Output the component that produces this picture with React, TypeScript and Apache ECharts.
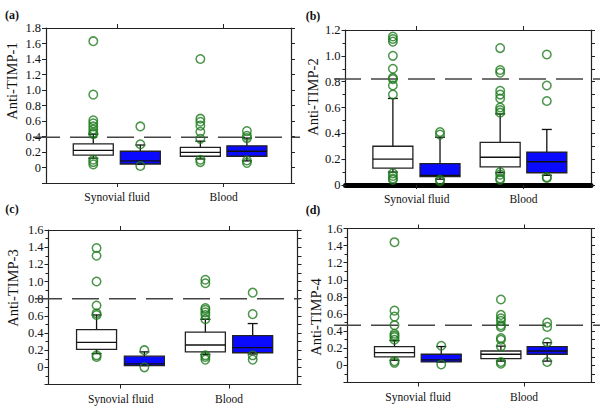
import React, { useEffect, useRef } from "react";
import * as echarts from "echarts";

// ---- data ----
const groups = ["Synovial fluid", "Blood"];
const groupCenters = [2.9, 7.25];
// box positions: white SF, blue SF, white Blood, blue Blood
const boxX = [1.93, 3.85, 6.3, 8.2];
const boxKind = [0, 1, 0, 1]; // 0 white, 1 blue

const panelLabels = ["(a)", "(b)", "(c)", "(d)"];
const axisTitles = ["Anti-TIMP-1", "Anti-TIMP-2", "Anti-TIMP-3", "Anti-TIMP-4"];
const yMin = [-0.2, 0, -0.2, -0.2];
const yMax = [1.8, 1.2, 1.6, 1.6];
const thresholds = [0.39, 0.82, 0.8, 0.47];

// [min, q1, median, q3, max] for whiteSF, blueSF, whiteBlood, blueBlood
const statsA = [
  [0.12, 0.16, 0.22, 0.305, 0.43],
  [0.04, 0.045, 0.085, 0.21, 0.29],
  [0.11, 0.145, 0.195, 0.26, 0.34],
  [0.085, 0.145, 0.21, 0.28, 0.38],
];
const statsB = [
  [0.1, 0.13, 0.2, 0.3, 0.67],
  [0.045, 0.065, 0.075, 0.165, 0.37],
  [0.095, 0.14, 0.215, 0.33, 0.55],
  [0.075, 0.095, 0.18, 0.255, 0.43],
];
const statsC = [
  [0.16, 0.21, 0.29, 0.44, 0.61],
  [0.02, 0.02, 0.04, 0.13, 0.18],
  [0.15, 0.18, 0.26, 0.41, 0.56],
  [0.155, 0.17, 0.23, 0.37, 0.51],
];
const statsD = [
  [0.06, 0.1, 0.15, 0.22, 0.29],
  [0.04, 0.04, 0.065, 0.13, 0.22],
  [0.05, 0.078, 0.13, 0.168, 0.225],
  [0.05, 0.13, 0.168, 0.22, 0.265],
];

const outliersA = [
  [1.63, 0.94, 0.61, 0.57, 0.53, 0.49, 0.45, 0.43, 0.1, 0.07, 0.04],
  [0.53, 0.3, 0.02],
  [1.4, 0.63, 0.59, 0.54, 0.46, 0.37, 0.1, 0.07],
  [0.47, 0.41, 0.38, 0.09, 0.06],
];
const outliersB = [
  [1.15, 1.13, 1.11, 1.0, 0.9, 0.83, 0.82, 0.77, 0.7, 0.09, 0.07, 0.05, 0.04],
  [0.41, 0.39, 0.04, 0.03],
  [1.06, 0.89, 0.87, 0.73, 0.7, 0.67, 0.6, 0.58, 0.56, 0.1, 0.08, 0.05, 0.04],
  [1.01, 0.77, 0.65, 0.06, 0.055],
];
const outliersC = [
  [1.39, 1.3, 1.0, 0.72, 0.63, 0.61, 0.14, 0.12],
  [0.2, 0.0],
  [1.02, 0.98, 0.69, 0.67, 0.64, 0.61, 0.56, 0.14, 0.12, 0.09],
  [0.87, 0.62, 0.14, 0.09],
];
const outliersD = [
  [1.44, 0.64, 0.57, 0.47, 0.37, 0.35, 0.33, 0.3, 0.05, 0.03],
  [0.23, 0.01],
  [0.77, 0.59, 0.55, 0.52, 0.47, 0.45, 0.32, 0.3, 0.22, 0.04, 0.02],
  [0.5, 0.45, 0.27, 0.04],
];

const allStats = [statsA, statsB, statsC, statsD];
const allOutliers = [outliersA, outliersB, outliersC, outliersD];

// ---- layout ----
const grids = [
  { left: 46, top: 28, width: 245, height: 155 },
  { left: 345.5, top: 30, width: 245.5, height: 155 },
  { left: 48.5, top: 230, width: 249, height: 154.5 },
  { left: 347.5, top: 228.5, width: 243.5, height: 154 },
];
const extGrids = [
  { left: 33, width: 267 },
  { left: 334, width: 266 },
  { left: 35, width: 265 },
  { left: 334, width: 266 },
];
const labelPos = [
  [12, 14.5],
  [313, 16],
  [12, 209],
  [313, 209.5],
];
const titlePos = [
  [12, 81],
  [313, 97],
  [12.5, 288],
  [316, 317],
];

const FONT = "'Liberation Serif', 'Times New Roman', serif";
const GREEN = "#1e7b1e";
const BLUE = "#0a0aff";

function fmtY(v: number) {
  if (v < -1e-9) return "";
  if (Math.abs(v) < 1e-9) return "0";
  return v.toFixed(1);
}

export default function App() {
  const ref = useRef<HTMLDivElement>(null);
  useEffect(() => {
    if (!ref.current) return;
    const chart = echarts.init(ref.current, undefined, { renderer: "svg" });

    const gridOpt: any[] = [];
    const xAxes: any[] = [];
    const yAxes: any[] = [];
    const series: any[] = [];
    const graphics: any[] = [];

    for (let p = 0; p < 4; p++) {
      gridOpt.push({ ...grids[p], containLabel: false });
    }
    for (let p = 0; p < 4; p++) {
      gridOpt.push({ left: extGrids[p].left, width: extGrids[p].width, top: grids[p].top, height: grids[p].height });
    }

    for (let p = 0; p < 4; p++) {
      const minor = p !== 0;
      const axisLine = { show: true, onZero: false, lineStyle: { color: "#222", width: 1.2 } };
      // bottom x
      xAxes.push({
        type: "value",
        gridIndex: p,
        position: "bottom",
        min: 0,
        max: 10,
        axisLine: p === 1 ? { show: true, onZero: false, lineStyle: { color: "#000", width: 5 } } : axisLine,
        splitLine: { show: false },
        axisTick: { show: true, inside: false, length: 4, customValues: groupCenters, lineStyle: { color: "#222" } },
        axisLabel: {
          show: true,
          customValues: groupCenters,
          margin: 8,
          fontFamily: FONT,
          fontSize: 11.5,
          color: "#111",
          formatter: (v: number) => {
            let best = 0;
            for (let i = 0; i < groupCenters.length; i++) {
              if (Math.abs(groupCenters[i] - v) < Math.abs(groupCenters[best] - v)) best = i;
            }
            return groups[best];
          },
        },
      });
      // top x
      xAxes.push({
        type: "value",
        gridIndex: p,
        position: "top",
        min: 0,
        max: 10,
        axisLine,
        splitLine: { show: false },
        axisTick: { show: true, inside: false, length: 4, customValues: groupCenters, lineStyle: { color: "#222" } },
        axisLabel: { show: false },
      });
      // ext x
      xAxes.push({ type: "value", gridIndex: 4 + p, min: 0, max: 1, show: false });

      // left y
      yAxes.push({
        type: "value",
        gridIndex: p,
        position: "left",
        min: yMin[p],
        max: yMax[p],
        interval: 0.2,
        axisLine,
        splitLine: { show: false },
        axisTick: { show: true, inside: false, length: 4, lineStyle: { color: "#222" } },
        minorTick: { show: minor, splitNumber: 2, length: 3, lineStyle: { color: "#222" } },
        minorSplitLine: { show: false },
        axisLabel: { show: true, margin: 5, fontFamily: FONT, fontSize: 12.5, color: "#111", formatter: fmtY },
      });
      // right y
      yAxes.push({
        type: "value",
        gridIndex: p,
        position: "right",
        min: yMin[p],
        max: yMax[p],
        interval: 0.2,
        axisLine,
        splitLine: { show: false },
        axisTick: { show: true, inside: false, length: 4, lineStyle: { color: "#222" } },
        minorTick: { show: minor, splitNumber: 2, length: 4, lineStyle: { color: "#222" } },
        minorSplitLine: { show: false },
        axisLabel: { show: false },
      });
      // ext y
      yAxes.push({ type: "value", gridIndex: 4 + p, min: yMin[p], max: yMax[p], show: false });

      // threshold dashed line
      series.push({
        type: "line",
        xAxisIndex: 3 * p + 2,
        yAxisIndex: 3 * p + 2,
        data: [
          [0, thresholds[p]],
          [1, thresholds[p]],
        ],
        symbol: "none",
        silent: true,
        z: 1,
        lineStyle: { color: "#444", width: 1.5, type: [27, 10] },
      });

      // boxes
      const boxData = allStats[p].map((s, i) => [boxX[i], ...s, boxKind[i]]);
      series.push({
        type: "custom",
        xAxisIndex: 3 * p,
        yAxisIndex: 3 * p,
        data: boxData,
        encode: { x: 0, y: [1, 2, 3, 4, 5] },
        z: 3,
        silent: true,
        renderItem: (params: any, api: any) => {
          const x = api.value(0);
          const mn = api.value(1);
          const q1 = api.value(2);
          const md = api.value(3);
          const q3 = api.value(4);
          const mx = api.value(5);
          const kind = api.value(6);
          const cx = api.coord([x, md])[0];
          const Y = (v: number) => api.coord([x, v])[1];
          const w = 40;
          const cap = 5;
          const ls = { stroke: "#111", lineWidth: 1.3 };
          return {
            type: "group",
            children: [
              { type: "line", shape: { x1: cx, y1: Y(q3), x2: cx, y2: Y(mx) }, style: ls },
              { type: "line", shape: { x1: cx, y1: Y(q1), x2: cx, y2: Y(mn) }, style: ls },
              { type: "line", shape: { x1: cx - cap, y1: Y(mx), x2: cx + cap, y2: Y(mx) }, style: ls },
              { type: "line", shape: { x1: cx - cap, y1: Y(mn), x2: cx + cap, y2: Y(mn) }, style: ls },
              {
                type: "rect",
                shape: { x: cx - w / 2, y: Y(q3), width: w, height: Y(q1) - Y(q3) },
                style: { fill: kind ? BLUE : "#fff", stroke: "#222", lineWidth: 1.3 },
              },
              { type: "line", shape: { x1: cx - w / 2, y1: Y(md), x2: cx + w / 2, y2: Y(md) }, style: { stroke: "#111", lineWidth: 1.3 } },
            ],
          };
        },
      });

      // outliers
      const pts: number[][] = [];
      allOutliers[p].forEach((arr, i) => arr.forEach((v) => pts.push([boxX[i], v])));
      series.push({
        type: "scatter",
        xAxisIndex: 3 * p,
        yAxisIndex: 3 * p,
        data: pts,
        symbol: "circle",
        symbolSize: 8.5,
        z: 4,
        silent: true,
        itemStyle: { color: "rgba(0,0,0,0)", borderColor: GREEN, borderWidth: 1.5 },
      });

      graphics.push({
        type: "text",
        x: labelPos[p][0],
        y: labelPos[p][1],
        style: {
          text: panelLabels[p],
          fontFamily: FONT,
          fontWeight: "bold",
          fontSize: 12,
          fill: "#111",
          align: "center",
          verticalAlign: "middle",
        },
      });
      graphics.push({
        type: "text",
        x: titlePos[p][0],
        y: titlePos[p][1],
        rotation: Math.PI / 2,
        style: {
          text: axisTitles[p],
          fontFamily: FONT,
          fontSize: 14.5,
          fill: "#111",
          align: "center",
          verticalAlign: "middle",
        },
      });
    }

    chart.setOption({
      animation: false,
      backgroundColor: "#fff",
      textStyle: { fontFamily: FONT },
      grid: gridOpt,
      xAxis: xAxes,
      yAxis: yAxes,
      series,
      graphic: graphics,
    });
    return () => chart.dispose();
  }, []);
  return <div ref={ref} style={{ position: "fixed", left: 0, top: 0, width: 600, height: 408 }} />;
}
